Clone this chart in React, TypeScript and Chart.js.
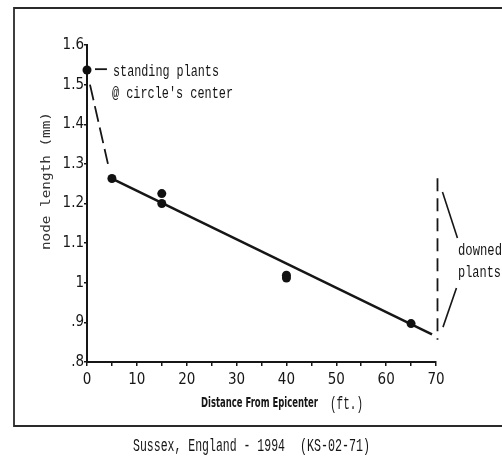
import React, { useEffect, useRef } from "react";
import { Chart, registerables } from "chart.js";

Chart.register(...registerables);

// ---- data ----
const pointX = [0, 5, 15, 15, 40, 40, 65];
const pointY = [1.537, 1.263, 1.225, 1.2, 1.019, 1.012, 0.897];

const fitX = [5, 69.2];
const fitY = [1.263, 0.87];

const dropX = [0.6, 4.2];
const dropY = [1.5, 1.3];

const downedX = [70.3, 70.3];
const downedY = [1.264, 0.856];

const bracketUpX = [71.3, 74.3];
const bracketUpY = [1.229, 1.113];
const bracketLowX = [74.1, 71.4];
const bracketLowY = [0.987, 0.888];

const leaderX = [1.6, 4.0];
const leaderY = [1.539, 1.539];

const xTickValues = [0, 10, 20, 30, 40, 50, 60, 70];
const yTickValues = [0.8, 0.9, 1.0, 1.1, 1.2, 1.3, 1.4, 1.5, 1.6];
const yTickLabels = [".8", ".9", "1", "1.1", "1.2", "1.3", "1.4", "1.5", "1.6"];

const xTitle = "Distance From Epicenter";
const xUnit = "(ft.)";
const yTitle = "node length (mm)";
const noteStanding = ["standing plants", "@ circle's center"];
const noteDowned = ["downed", "plants"];
const captionA = "Sussex, England - 1994";
const captionB = "(KS-02-71)";

const toPts = (xs: number[], ys: number[]) => xs.map((x, i) => ({ x, y: ys[i] }));

const INK = "#161616";
const NARROW = "'Liberation Sans Narrow', 'DejaVu Sans Condensed', 'Liberation Sans', sans-serif";
const MONO = "'Liberation Mono', 'DejaVu Sans Mono', monospace";

function drawFit(
  ctx: CanvasRenderingContext2D,
  text: string,
  x: number,
  y: number,
  font: string,
  width: number,
  rotate = 0,
  align: CanvasTextAlign = "left",
  color = INK
) {
  ctx.save();
  ctx.translate(x, y);
  ctx.rotate(rotate);
  ctx.font = font;
  const w = ctx.measureText(text).width || 1;
  ctx.scale(width / w, 1);
  ctx.textAlign = align;
  ctx.textBaseline = "alphabetic";
  ctx.fillStyle = color;
  ctx.fillText(text, 0, 0);
  ctx.restore();
}

const decorPlugin = {
  id: "decor",
  afterDraw(chart: any) {
    const ctx: CanvasRenderingContext2D = chart.ctx;
    // outer frame
    ctx.save();
    ctx.strokeStyle = "#2a2a2a";
    ctx.lineWidth = 1.8;
    ctx.beginPath();
    ctx.moveTo(510, 8);
    ctx.lineTo(14, 8);
    ctx.lineTo(14, 426);
    ctx.lineTo(510, 426);
    ctx.stroke();
    ctx.restore();

    // annotations
    drawFit(ctx, noteStanding[0], 113, 76, `16px ${MONO}`, 106);
    drawFit(ctx, noteStanding[1], 112, 98, `16px ${MONO}`, 121);
    drawFit(ctx, noteDowned[0], 458, 255, `16px ${MONO}`, 44);
    drawFit(ctx, noteDowned[1], 458, 277, `16px ${MONO}`, 43);

    // axis titles
    drawFit(ctx, xTitle, 201, 407, `bold 14px ${NARROW}`, 117);
    drawFit(ctx, xUnit, 330, 409, `18px ${MONO}`, 33);
    drawFit(ctx, yTitle, 50, 181, `13px 'DejaVu Sans Mono', monospace`, 138, -Math.PI / 2, "center", "#333");

    // caption
    drawFit(ctx, captionA, 133, 451, `19px ${MONO}`, 152);
    drawFit(ctx, captionB, 300, 451, `19px ${MONO}`, 70);
  },
};

export default function App() {
  const ref = useRef<HTMLCanvasElement | null>(null);

  useEffect(() => {
    if (!ref.current) return;
    const line = (xs: number[], ys: number[], extra: any = {}) => ({
      type: "line",
      data: toPts(xs, ys),
      borderColor: INK,
      borderWidth: 1.6,
      pointRadius: 0,
      showLine: true,
      clip: false,
      fill: false,
      ...extra,
    });

    const chart = new Chart(ref.current, {
      type: "scatter",
      data: {
        datasets: [
          {
            type: "scatter",
            data: toPts(pointX, pointY),
            backgroundColor: "#111",
            borderColor: "#111",
            borderWidth: 0,
            pointRadius: 4.5,
            clip: false,
          },
          line(fitX, fitY, { borderWidth: 2.5 }),
          line(dropX, dropY, { borderDash: [16, 6], borderWidth: 1.8 }),
          line(downedX, downedY, { borderDash: [13, 7], borderWidth: 1.8 }),
          line(bracketUpX, bracketUpY),
          line(bracketLowX, bracketLowY),
          line(leaderX, leaderY, { borderWidth: 1.8 }),
        ] as any,
      },
      options: {
        animation: false,
        responsive: false,
        events: [],
        layout: { padding: { left: 0, right: 66, top: 45, bottom: 0 } },
        plugins: { legend: { display: false }, tooltip: { enabled: false } },
        scales: {
          x: {
            type: "linear",
            min: 0,
            max: 70,
            afterFit: (s: any) => {
              s.height = 94;
            },
            border: { display: true, color: INK, width: 2 },
            grid: { display: true, drawOnChartArea: false, drawTicks: true, tickLength: 4, color: INK, lineWidth: 1.5 },
            ticks: {
              stepSize: 5,
              autoSkip: false,
              maxRotation: 0,
              padding: 5,
              color: INK,
              font: { family: NARROW, size: 15 },
              callback: (v: any) => {
                const n = Number(v);
                const hit = xTickValues.find((t) => Math.abs(t - n) < 1e-6);
                return hit === undefined ? "" : String(hit);
              },
            },
          },
          y: {
            type: "linear",
            min: 0.8,
            max: 1.6,
            afterFit: (s: any) => {
              s.width = 87;
            },
            border: { display: true, color: INK, width: 2 },
            grid: { display: true, drawOnChartArea: false, drawTicks: true, tickLength: 3, color: INK, lineWidth: 1.5 },
            ticks: {
              stepSize: 0.1,
              autoSkip: false,
              padding: 0,
              color: INK,
              font: { family: NARROW, size: 15 },
              callback: (v: any) => {
                const n = Number(v);
                const i = yTickValues.findIndex((t) => Math.abs(t - n) < 1e-6);
                return i < 0 ? "" : yTickLabels[i];
              },
            },
          },
        },
      },
      plugins: [decorPlugin],
    } as any);

    return () => chart.destroy();
  }, []);

  return (
    <div style={{ position: "absolute", left: 0, top: 0, width: 502, height: 456, background: "#fff" }}>
      <canvas ref={ref} width={502} height={456} style={{ display: "block", width: 502, height: 456 }} />
    </div>
  );
}
